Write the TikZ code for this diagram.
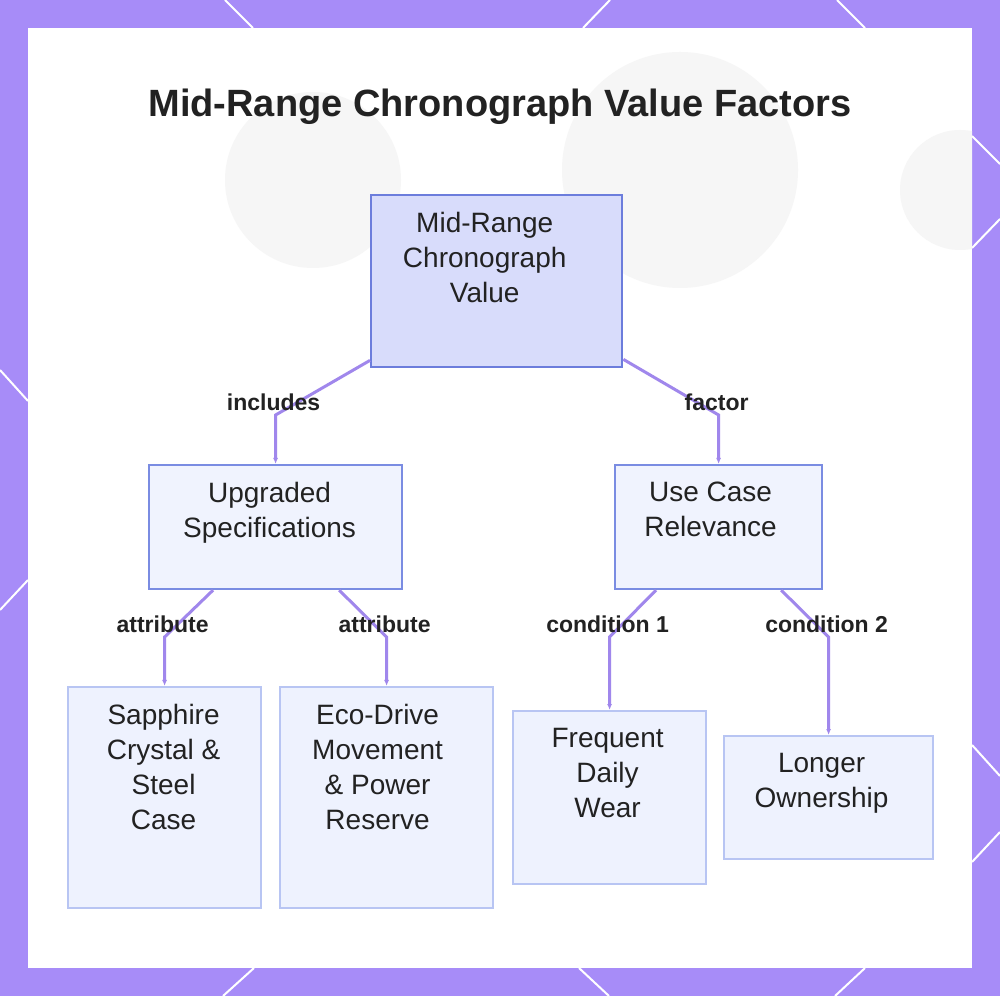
\documentclass[tikz,border=0pt]{standalone}
\usepackage{fontspec}
\setmainfont{Liberation Sans}
\usepackage{tikz}
\usetikzlibrary{arrows.meta, positioning, calc}
\definecolor{framepurple}{RGB}{167, 140, 248}
\definecolor{linkpurple}{RGB}{160, 135, 236}
\definecolor{rootfill}{RGB}{216, 220, 251}
\definecolor{rootdraw}{RGB}{108, 125, 220}
\definecolor{midfill}{RGB}{240, 243, 254}
\definecolor{middraw}{RGB}{122, 140, 226}
\definecolor{leaffill}{RGB}{238, 242, 254}
\definecolor{leafdraw}{RGB}{184, 197, 243}
\definecolor{inkgray}{RGB}{34, 34, 34}
\definecolor{hazegray}{RGB}{246, 246, 246}

\begin{document}
\begin{tikzpicture}[
    x=1pt, y=1pt,
    box/.style={rectangle, anchor=north west, inner sep=0pt},
    rootbox/.style={box, draw=rootdraw, fill=rootfill, line width=2.4pt},
    midbox/.style={box, draw=middraw, fill=midfill, line width=2.2pt},
    leafbox/.style={box, draw=leafdraw, fill=leaffill, line width=2.2pt},
    boxtext/.style={anchor=north, align=center, inner sep=0pt, text=inkgray,
                    font=\fontsize{28}{35}\selectfont},
    lbl/.style={font=\bfseries\fontsize{23}{27}\selectfont, text=inkgray,
                inner sep=0pt, xshift=-2pt, yshift=13pt},
    link/.style={linkpurple, line width=3pt, -{Latex[length=6pt, width=5pt]}},
    deco/.style={white, line width=2pt},
]
\useasboundingbox (0,0) rectangle (1000,996);

% Frame
\fill[framepurple] (0,0) rectangle (1000,996);
\draw[deco] (225,996) -- (253,968) (610,996) -- (583,968) (837,996) -- (865,968);
\draw[deco] (223,0) -- (254,28) (609,0) -- (579,28) (835,0) -- (865,28);
\draw[deco] (0,626) -- (28,595) (0,386) -- (28,416);
\draw[deco] (972,860) -- (1000,832) (972,748) -- (1000,777)
            (972,251) -- (1000,220) (972,134) -- (1000,164);
\fill[white] (28,28) rectangle (972,968);
\begin{scope}
  \clip (28,28) rectangle (972,968);
  \fill[hazegray] (313,816) circle (88);
  \fill[hazegray] (680,826) circle (118);
  \fill[hazegray] (960,806) circle (60);
\end{scope}

% Title
\node[anchor=base, font=\bfseries\fontsize{38}{45}\selectfont, text=inkgray]
    (title) at (500,879) {Mid-Range Chronograph Value Factors};

% Boxes
\node[rootbox, minimum width=251, minimum height=172] (root) at (370,802) {};
\node[midbox, minimum width=253, minimum height=124] (specs) at (148,532) {};
\node[midbox, minimum width=207, minimum height=124] (usecase) at (614,532) {};
\node[leafbox, minimum width=193, minimum height=221] (sapphire) at (67,310) {};
\node[leafbox, minimum width=213, minimum height=221] (ecodrive) at (279,310) {};
\node[leafbox, minimum width=193, minimum height=173] (daily) at (512,286) {};
\node[leafbox, minimum width=209, minimum height=123] (owner) at (723,261) {};

% Box texts
\node[boxtext, xshift=-12, yshift=-18] (root-t) at (root.north) {Mid-Range\\Chronograph\\Value};
\node[boxtext, xshift=-6, yshift=-18] (specs-t) at (specs.north) {Upgraded\\Specifications};
\node[boxtext, xshift=-8, yshift=-18] (usecase-t) at (usecase.north) {Use Case\\Relevance};
\node[boxtext, xshift=-1, yshift=-18] (sapphire-t) at (sapphire.north) {Sapphire\\Crystal \&\\Steel\\Case};
\node[boxtext, xshift=-9, yshift=-18] (ecodrive-t) at (ecodrive.north) {Eco-Drive\\Movement\\\& Power\\Reserve};
\node[boxtext, xshift=-2, yshift=-18] (daily-t) at (daily.north) {Frequent\\Daily\\Wear};
\node[boxtext, xshift=-7, yshift=-18] (owner-t) at (owner.north) {Longer\\Ownership};

% Links
\coordinate (lv1) at (0,581);
\coordinate (lv2) at (0,359);
\draw[link] ($(root.south west)+(0,8)$) -- (specs.north |- lv1)
    node[lbl] (l-inc) {includes} -- (specs.north);
\draw[link] ($(root.south east)+(0,9)$) -- (usecase.north |- lv1)
    node[lbl] (l-fac) {factor} -- (usecase.north);
\draw[link] ($(specs.south west)+(65,0)$) -- (sapphire.north |- lv2)
    node[lbl] (l-att1) {attribute} -- (sapphire.north);
\draw[link] ($(specs.south east)+(-64,0)$) -- (ecodrive.north |- lv2)
    node[lbl] (l-att2) {attribute} -- (ecodrive.north);
\draw[link] ($(usecase.south west)+(42,0)$) -- (daily.north |- lv2)
    node[lbl] (l-con1) {condition 1} -- (daily.north);
\draw[link] ($(usecase.south east)+(-42,0)$) -- (owner.north |- lv2)
    node[lbl] (l-con2) {condition 2} -- (owner.north);

\end{tikzpicture}
\end{document}
